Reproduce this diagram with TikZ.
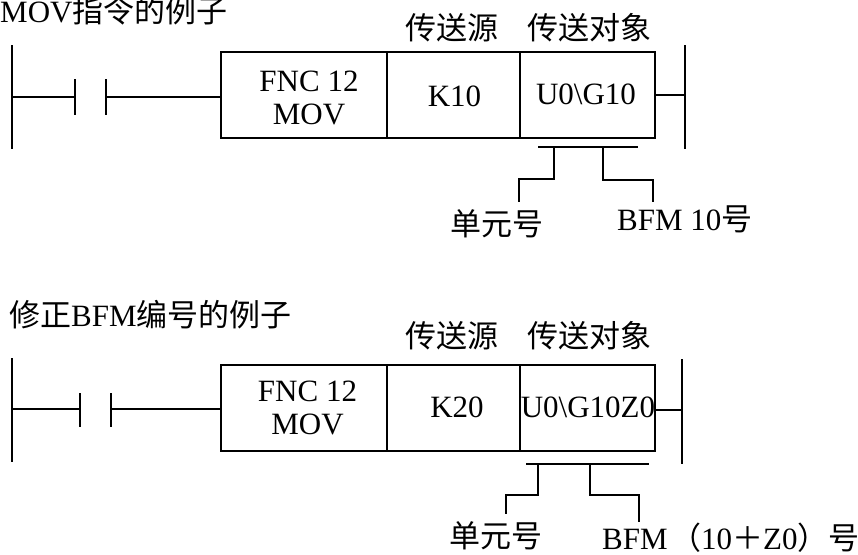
\documentclass[tikz,border=0pt]{standalone}
\usepackage{fontspec}
\setmainfont{Liberation Serif}
\newfontfamily\cjk{Noto Sans CJK SC}
\tikzset{wire/.style={line width=1.5pt,black},lbl/.style={inner sep=0pt,font=\fontsize{31pt}{33pt}\selectfont,anchor=center},cell/.style={inner sep=0pt,font=\fontsize{31pt}{33pt}\selectfont,align=center}}
\begin{document}
\begin{tikzpicture}[x=1pt,y=-1pt,line cap=butt]
\useasboundingbox (0,0) rectangle (858,554);
% top
\node[lbl,anchor=west] (t1) at (0,11) {MOV{\cjk 指令的例子}};
\node[lbl] (s1) at (452,28) {\cjk 传送源};
\node[lbl] (d1) at (589,28) {\cjk 传送对象};
\coordinate (a1) at (12,45); \coordinate (a2) at (12,149);
\draw[wire] (a1)--(a2);
\coordinate (b1) at (12,97); \coordinate (b2) at (75,97);
\draw[wire] (b1)--(b2);
\coordinate (c1) at (75,79); \coordinate (c2) at (75,115);
\draw[wire] (c1)--(c2);
\coordinate (e1) at (106,79); \coordinate (e2) at (106,115);
\draw[wire] (e1)--(e2);
\coordinate (f1) at (106,97);
\coordinate (box1a) at (221,97);
\draw[wire] (f1)--(box1a);
\draw[wire] (221,52) rectangle (655,138);
\draw[wire] (387,52)--(387,138);
\draw[wire] (520,52)--(520,138);
\node[cell] (n1) at (309,97.5) {FNC 12\\MOV};
\node[cell] (n2) at (454.5,96) {K10};
\node[cell] (n3) at (586,94) {U0\textbackslash G10};
\draw[wire] (655,95)--(685,95);
\draw[wire] (685,45)--(685,149);
\draw[wire] (538,147)--(638,147);
\draw[wire] (554,147)--(554,179)--(519,179)--(519,202);
\draw[wire] (603,147)--(603,180)--(653,180)--(653,202);
\node[lbl] (u1) at (497,224) {\cjk 单元号};
\node[lbl,anchor=west] (b1t) at (617,219) {BFM 10{\cjk 号}};
% bottom
\node[lbl,anchor=west] (t2) at (9,315) {{\cjk 修正}BFM{\cjk 编号的例子}};
\node[lbl] (s2) at (452,336) {\cjk 传送源};
\node[lbl] (d2) at (589,336) {\cjk 传送对象};
\draw[wire] (12,358)--(12,462);
\draw[wire] (12,409)--(80,409);
\draw[wire] (80,393)--(80,427);
\draw[wire] (111,393)--(111,427);
\draw[wire] (111,409)--(221,409);
\draw[wire] (221,365) rectangle (655,451);
\draw[wire] (387,365)--(387,451);
\draw[wire] (520,365)--(520,451);
\node[cell] (n4) at (307.5,408) {FNC 12\\MOV};
\node[cell] (n5) at (457,407) {K20};
\node[cell] (n6) at (588,407) {U0\textbackslash G10Z0};
\draw[wire] (655,410)--(682,410);
\draw[wire] (682,359)--(682,464);
\draw[wire] (526,464)--(649,464);
\draw[wire] (538,464)--(538,495)--(506,495)--(506,514);
\draw[wire] (590,464)--(590,495)--(639,495)--(639,522);
\node[lbl] (u2) at (496,536) {\cjk 单元号};
\node[lbl,anchor=west] (b2t) at (602,538) {BFM\kern2.5pt{\cjk （}10{\cjk ＋}Z0{\cjk ）号}};
\end{tikzpicture}
\end{document}
